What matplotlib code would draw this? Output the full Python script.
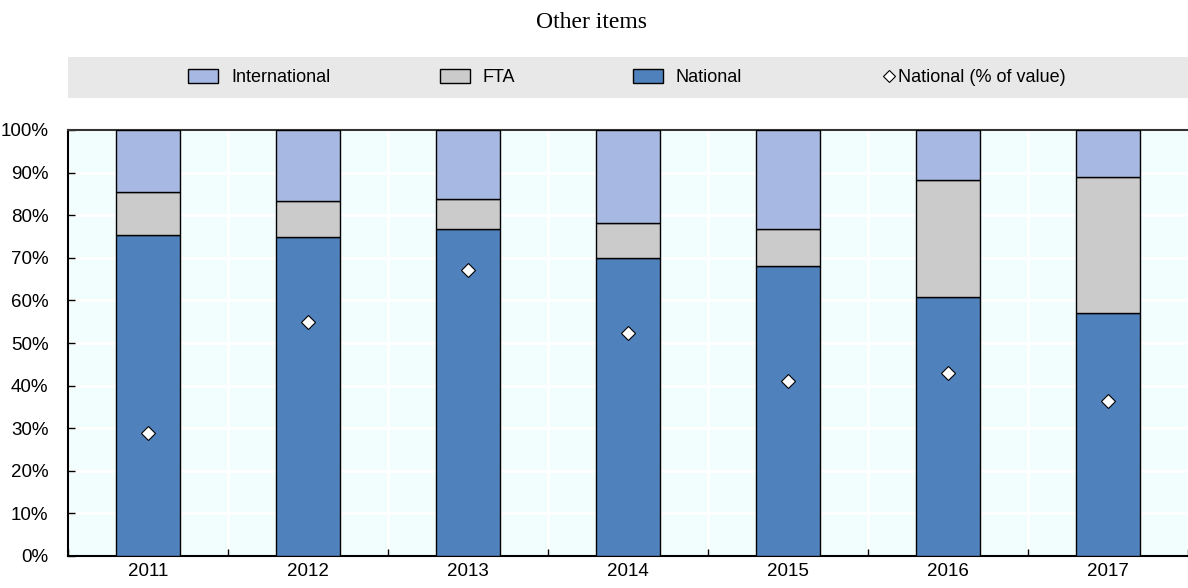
import matplotlib.pyplot as plt
import matplotlib.patches as mpatches
from matplotlib.lines import Line2D
import numpy as np

# Data points (shares in %)
years = ['2011', '2012', '2013', '2014', '2015', '2016', '2017']
national = [75.4, 74.9, 76.8, 70.0, 68.1, 60.8, 57.0]
fta = [10.0, 8.4, 7.0, 8.2, 8.7, 27.5, 32.0]
international = [100 - n - f for n, f in zip(national, fta)]
national_value = [28.9, 54.9, 67.1, 52.3, 41.1, 43.0, 36.4]

c_int = '#A7B8E2'
c_fta = '#CBCBCB'
c_nat = '#4F81BD'

plt.rcParams['font.family'] = ['Liberation Sans Narrow', 'Liberation Sans', 'DejaVu Sans']

fig = plt.figure(figsize=(11.88, 5.88), dpi=100)
ax = fig.add_axes([68 / 1188, 1 - 556 / 588, 1 - 68 / 1188, 426 / 588])

x = np.arange(len(years))
w = 0.4
ax.bar(x, national, w, color=c_nat, edgecolor='black', linewidth=1, zorder=3)
ax.bar(x, fta, w, bottom=national, color=c_fta, edgecolor='black', linewidth=1, zorder=3)
bottom2 = [n + f for n, f in zip(national, fta)]
ax.bar(x, international, w, bottom=bottom2, color=c_int, edgecolor='black', linewidth=1, zorder=3)
ax.plot(x, national_value, linestyle='none', marker='D', markersize=7,
        markerfacecolor='white', markeredgecolor='black', markeredgewidth=0.8, zorder=4)

ax.set_facecolor('#F2FEFE')
ax.set_xlim(-0.5, len(years) - 0.5)
ax.set_ylim(0, 100)
ax.set_yticks(np.arange(0, 101, 10))
ax.set_yticklabels([f'{v}%' for v in range(0, 101, 10)], fontsize=13.5)
ax.set_xticks(x)
ax.set_xticklabels(years, fontsize=13.5)
ax.set_xticks(np.arange(-0.5, len(years), 1), minor=True)
ax.tick_params(axis='x', which='major', length=0, pad=5)
ax.tick_params(axis='x', which='minor', direction='in', length=5, width=1)
ax.tick_params(axis='y', direction='in', length=5, width=1, pad=14)
ax.yaxis.grid(True, color='white', linewidth=2, zorder=0)
ax.xaxis.grid(True, which='minor', color='white', linewidth=2, zorder=0)
ax.set_axisbelow(True)
ax.spines['right'].set_visible(False)
ax.spines['left'].set_linewidth(1.5)
ax.spines['bottom'].set_linewidth(1.5)
ax.spines['top'].set_color('#333333')
ax.spines['top'].set_linewidth(1.5)

# Title
fig.text(592 / 1188, 1 - 22 / 588, 'Other items', ha='center', va='center',
         fontsize=17, family='Liberation Serif')

# Legend band
band = mpatches.Rectangle((68 / 1188, 1 - 98 / 588), 1 - 68 / 1188, 41 / 588,
                          transform=fig.transFigure, facecolor='#E8E8E8',
                          edgecolor='none', zorder=0)
fig.patches.append(band)

items = [
    (mpatches.Patch(facecolor=c_int, edgecolor='black', linewidth=1), 'International', 188),
    (mpatches.Patch(facecolor=c_fta, edgecolor='black', linewidth=1), 'FTA', 440),
    (mpatches.Patch(facecolor=c_nat, edgecolor='black', linewidth=1), 'National', 633),
]
for handle, label, px in items:
    fig.legend(handles=[handle], labels=[label], loc='center left',
               bbox_to_anchor=(px / 1188, 1 - 77.5 / 588), frameon=False,
               fontsize=13, handlelength=1.66, handleheight=0.83, handletextpad=0.72,
               borderpad=0, borderaxespad=0)

diamond = Line2D([], [], linestyle='none', marker='D', markersize=6, markerfacecolor='white',
                 markeredgecolor='black', markeredgewidth=0.8)
fig.legend(handles=[diamond], labels=['National (% of value)'], loc='center left',
           bbox_to_anchor=(882 / 1188, 1 - 77.5 / 588), frameon=False,
           fontsize=13, handlelength=0.8, handletextpad=0.1,
           borderpad=0, borderaxespad=0)

fig.savefig('out.png', dpi=100)
